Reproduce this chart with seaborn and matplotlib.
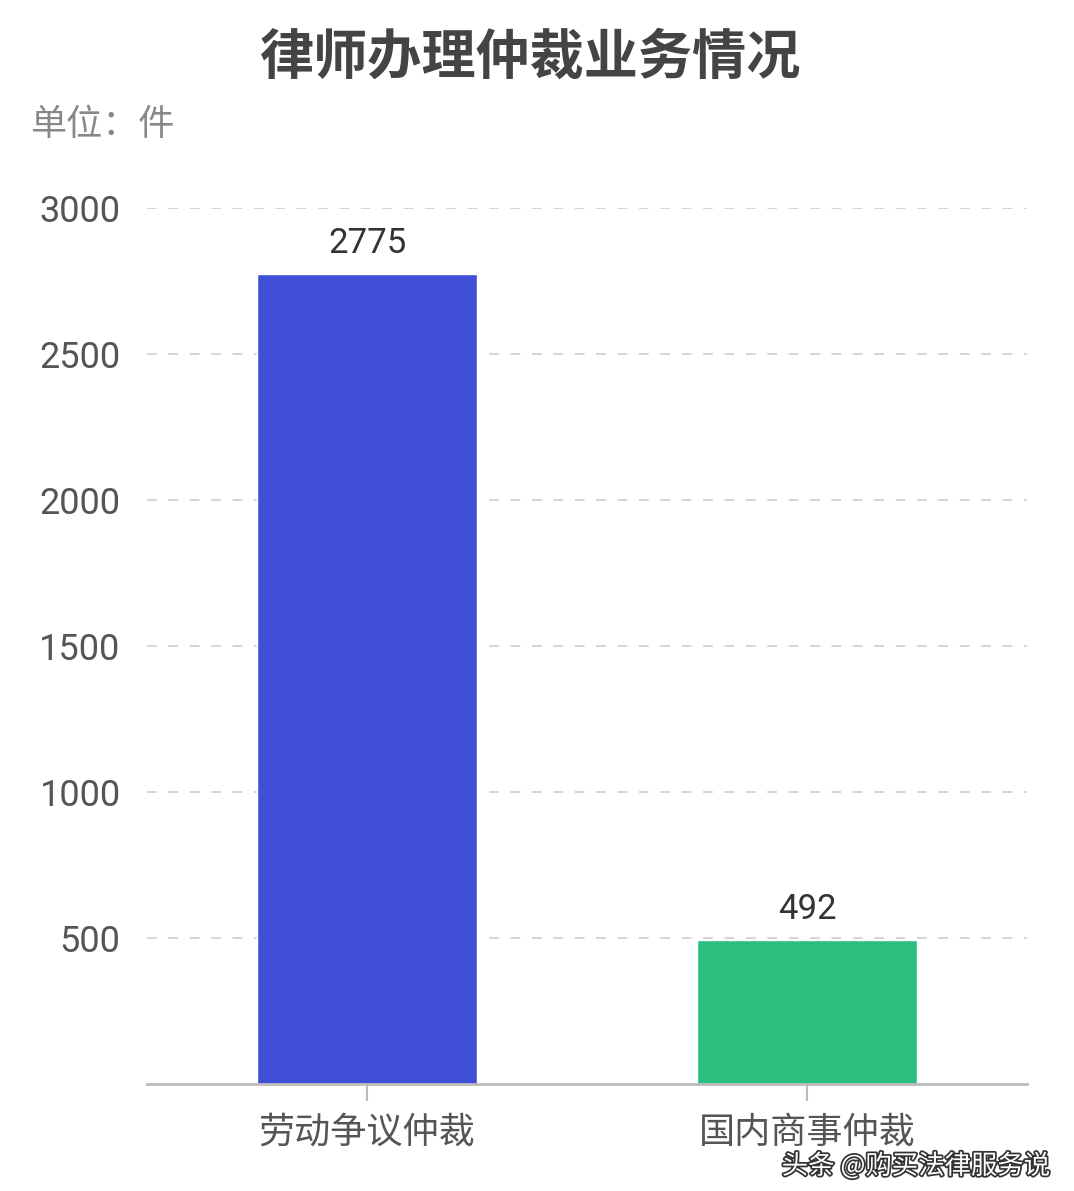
"""Bar chart: lawyers handling arbitration cases (律师办理仲裁业务情况)."""

import matplotlib
matplotlib.use("Agg")

import matplotlib.pyplot as plt
import matplotlib.patheffects as pe
import pandas as pd
import seaborn as sns

# Data
categories = ["劳动争议仲裁", "国内商事仲裁"]
case_counts = [2775, 492]
bar_colors = ["#4050D6", "#2BBF7E"]
y_ticks = [500, 1000, 1500, 2000, 2500, 3000]

title_text = "律师办理仲裁业务情况"
unit_text = "单位：件"
watermark_text = "头条 @购买法律服务说"

sns.set_theme(style="white")
plt.rcParams["font.family"] = ["Noto Sans CJK SC", "DejaVu Sans"]

df = pd.DataFrame({"category": categories, "count": case_counts})

W, H = 1074, 1191
fig = plt.figure(figsize=(W / 100, H / 100), dpi=100)
ax = fig.add_axes([147 / W, 1 - 1084 / H, 880 / W, (1084 - 208) / H])

sns.barplot(data=df, x="category", y="count", hue="category",
            palette=bar_colors, width=0.5, saturation=1, legend=False, ax=ax)

ax.set_xlim(-0.5, 1.5)
ax.set_ylim(0, 3000)
ax.set_yticks(y_ticks)
ax.set_yticklabels([str(t) for t in y_ticks], family="Roboto", fontsize=26, color="#555555")
ax.tick_params(axis="y", length=0, pad=19)
ax.tick_params(axis="x", length=12, width=1.5, color="#BBBBBB", pad=10,
               labelsize=26, labelcolor="#555555", direction="out")
ax.xaxis.set_ticks_position("bottom")
ax.set_xlabel("")
ax.set_ylabel("")

ax.yaxis.grid(True, linestyle=(0, (5, 6)), color="#D4D4D4", linewidth=1.4)
ax.set_axisbelow(True)
for side in ["top", "right", "left"]:
    ax.spines[side].set_visible(False)
ax.spines["bottom"].set_color("#BBBBBB")
ax.spines["bottom"].set_linewidth(2)

for container in ax.containers:
    ax.bar_label(container, padding=10, fontsize=25, color="#333333", family="Roboto")

fig.text(531 / W, 1 - 58 / H, title_text, ha="center", va="center",
         fontsize=39, fontweight="bold", color="#444444")
fig.text(30 / W, 1 - 125 / H, unit_text, ha="left", va="center",
         fontsize=26, color="#888888")
fig.text(1050 / W, 1 - 1166 / H, watermark_text, ha="right", va="center",
         fontsize=19, color="white",
         path_effects=[pe.withStroke(linewidth=2.5, foreground="#333333")])

fig.savefig("out.png", dpi=100, facecolor="white")
